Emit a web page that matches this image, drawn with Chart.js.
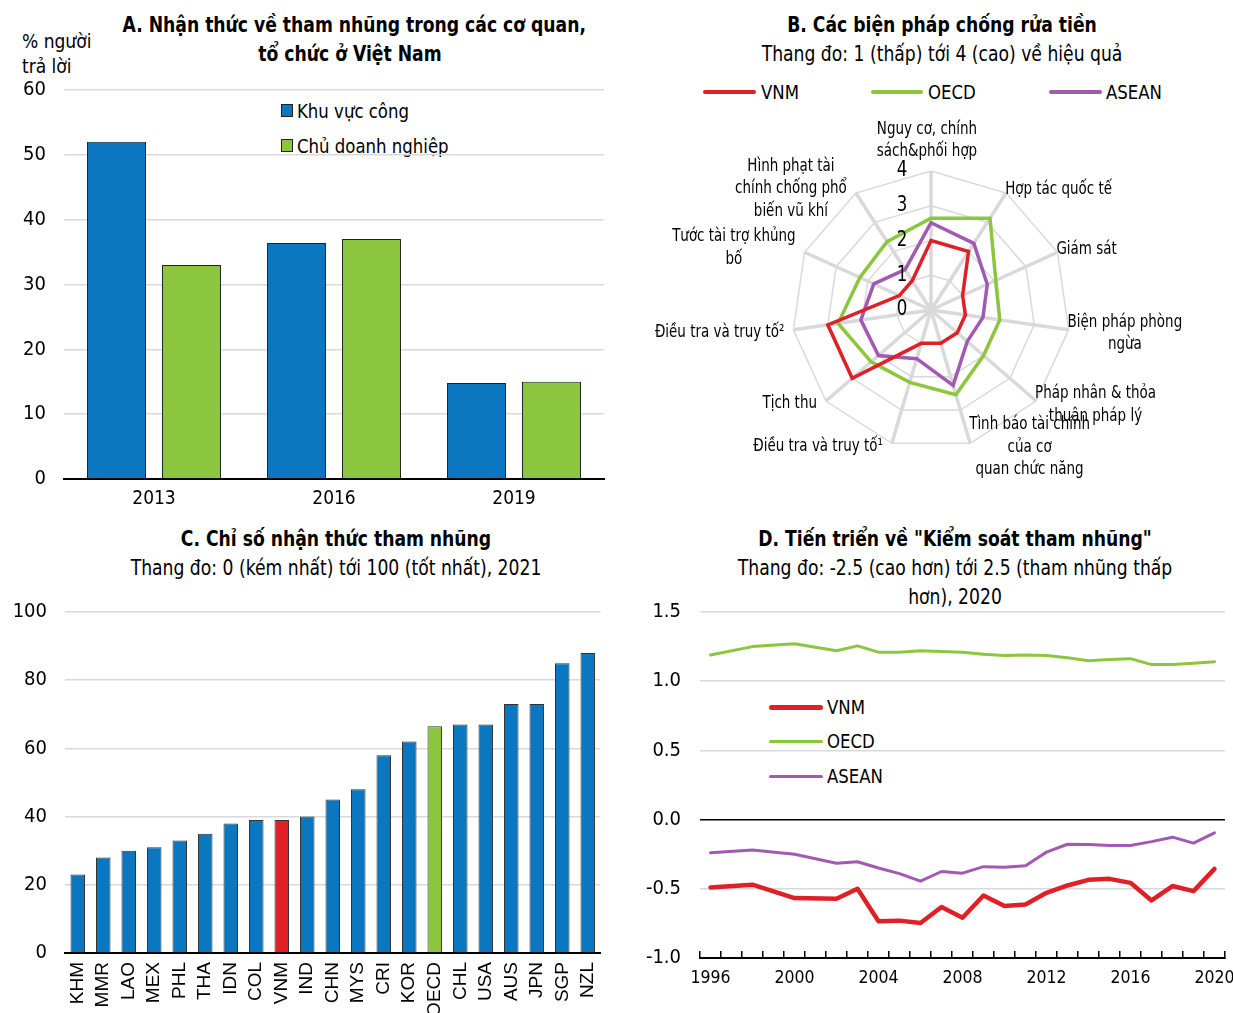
<!DOCTYPE html>
<html>
<head>
<meta charset="utf-8">
<script src="https://cdn.jsdelivr.net/npm/chart.js@4.4.1/dist/chart.umd.min.js"></script>
<style>
  body { margin: 0; width: 1233px; height: 1013px; position: relative; overflow: hidden; background: #fff;
         font-family: "Liberation Sans Narrow", "Arial Narrow", "DejaVu Sans Condensed", sans-serif; color: #000; }
  canvas { position: absolute; }
  .txt { position: absolute; white-space: nowrap; }
  .title { text-align: center; font-size: 21px; line-height: 29px; transform: scaleX(0.91); transform-origin: 50% 0; }
  .title b { font-weight: bold; }
  .leg { position: absolute; font-size: 20px; line-height: 24px; white-space: nowrap; transform: scaleX(0.92); transform-origin: 0 0; }
  .sw { position: absolute; border-radius: 3px; }
  .box { position: absolute; width: 10px; height: 11px; border: 1px solid #222; }
</style>
</head>
<body>

<!-- panel titles -->
<div class="txt title" style="left:100px; top:11px; width:500px;"><b>A. Nhận thức về tham nhũng trong các cơ quan,<br>tổ chức ở Việt Nam</b></div>
<div class="txt" style="left:22px; top:29px; font-size:19px; line-height:25px;">% người<br>trả lời</div>

<div class="txt title" style="left:692px; top:11px; width:500px;"><b>B. Các biện pháp chống rửa tiền</b><br>Thang đo: 1 (thấp) tới 4 (cao) về hiệu quả</div>

<div class="txt title" style="left:86px; top:525px; width:500px;"><b>C. Chỉ số nhận thức tham nhũng</b><br>Thang đo: 0 (kém nhất) tới 100 (tốt nhất), 2021</div>

<div class="txt title" style="left:705px; top:525px; width:500px;"><b>D. Tiến triển về "Kiểm soát tham nhũng"</b><br>Thang đo: -2.5 (cao hơn) tới 2.5 (tham nhũng thấp<br>hơn), 2020</div>

<!-- legends -->
<div class="box" style="left:281px; top:104px; background:#0A77C0;"></div>
<div class="leg" style="left:297px; top:99px;">Khu vực công</div>
<div class="box" style="left:281px; top:139px; background:#8CC63F;"></div>
<div class="leg" style="left:297px; top:134px;">Chủ doanh nghiệp</div>

<div class="sw" style="left:703px; top:90px; width:53px; height:4px; background:#DE2027;"></div>
<div class="leg" style="left:761px; top:80px;">VNM</div>
<div class="sw" style="left:871px; top:90px; width:52px; height:4px; background:#8CC63F;"></div>
<div class="leg" style="left:928px; top:80px;">OECD</div>
<div class="sw" style="left:1049px; top:90px; width:53px; height:4px; background:#A259B1;"></div>
<div class="leg" style="left:1106px; top:80px;">ASEAN</div>

<div class="sw" style="left:769px; top:705px; width:54px; height:5px; background:#DE2027;"></div>
<div class="leg" style="left:827px; top:695px;">VNM</div>
<div class="sw" style="left:769px; top:740px; width:54px; height:3px; background:#8CC63F;"></div>
<div class="leg" style="left:827px; top:729px;">OECD</div>
<div class="sw" style="left:769px; top:775px; width:54px; height:3px; background:#A259B1;"></div>
<div class="leg" style="left:827px; top:764px;">ASEAN</div>

<canvas id="chartA" width="620" height="520" style="left:0; top:0;"></canvas>
<canvas id="chartB" width="613" height="420" style="left:620px; top:100px;"></canvas>
<canvas id="chartC" width="620" height="433" style="left:0; top:580px;"></canvas>
<canvas id="chartD" width="635" height="433" style="left:620px; top:580px;"></canvas>

<script>
// ---- data ----
// A. perception of corruption
const surveyYears = ['2013', '2016', '2019'];
const publicSector = [52, 36.4, 14.8];
const businessOwners = [33, 37, 15];

// B. anti money laundering effectiveness (1-4)
const amlAxes = [
  ['Nguy cơ, chính', 'sách&phối hợp'],
  ['Hợp tác quốc tế'],
  ['Giám sát'],
  ['Biện pháp phòng', 'ngừa'],
  ['Pháp nhân & thỏa', 'thuận pháp lý'],
  ['Tình báo tài chính', 'của cơ', 'quan chức năng'],
  ['Điều tra và truy tố¹'],
  ['Tịch thu'],
  ['Điều tra và truy tố²'],
  ['Tước tài trợ khủng', 'bố'],
  ['Hình phạt tài', 'chính chống phổ', 'biến vũ khí']
];
const amlVNM = [2, 2, 1, 1, 1, 1, 1, 3, 3, 1, 1];
const amlOECD = [2.64, 3.14, 2.05, 2.0, 2.0, 2.54, 2.17, 2.28, 2.7, 2.25, 2.34];
const amlASEAN = [2.51, 2.28, 1.78, 1.51, 1.38, 2.26, 1.46, 2.0, 2.04, 1.81, 1.38];

// C. corruption perception index 2021
const countries = ['KHM', 'MMR', 'LAO', 'MEX', 'PHL', 'THA', 'IDN', 'COL', 'VNM', 'IND', 'CHN',
                   'MYS', 'CRI', 'KOR', 'OECD', 'CHL', 'USA', 'AUS', 'JPN', 'SGP', 'NZL'];
const cpiScores = [23, 28, 30, 31, 33, 35, 38, 39, 39, 40, 45, 48, 58, 62, 66.5, 67, 67, 73, 73, 85, 88];

// D. control of corruption (no survey in 1997, 1999, 2001)
const wgiYears = ['1996', '1997', '1998', '1999', '2000', '2001', '2002', '2003', '2004', '2005', '2006',
                  '2007', '2008', '2009', '2010', '2011', '2012', '2013', '2014', '2015', '2016', '2017',
                  '2018', '2019', '2020'];
const wgiVNM = [-0.49, null, -0.47, null, -0.567, null, -0.572, -0.50, -0.735, -0.73, -0.747, -0.632,
                -0.709, -0.548, -0.625, -0.613, -0.529, -0.476, -0.435, -0.428, -0.457, -0.584, -0.48,
                -0.517, -0.356];
const wgiOECD = [1.19, null, 1.25, null, 1.27, null, 1.22, 1.255, 1.21, 1.21, 1.22, 1.215, 1.21, 1.195,
                 1.185, 1.19, 1.185, 1.17, 1.147, 1.156, 1.163, 1.12, 1.12, 1.13, 1.14];
const wgiASEAN = [-0.24, null, -0.22, null, -0.25, null, -0.315, -0.305, -0.35, -0.39, -0.445, -0.375,
                  -0.387, -0.34, -0.344, -0.334, -0.235, -0.178, -0.18, -0.187, -0.187, -0.159, -0.127,
                  -0.17, -0.096];

const BLUE = '#0A77C0', GREEN = '#8CC63F', RED = '#DE2027', PURPLE = '#A259B1';
const GRID = '#d9d9d9';
const NARROW = '"Liberation Sans Narrow", "Arial Narrow", "DejaVu Sans Condensed", sans-serif';

Chart.defaults.font.family = NARROW;
Chart.defaults.color = '#000';
Chart.defaults.animation = false;
Chart.defaults.responsive = false;
Chart.defaults.devicePixelRatio = 1;
Chart.defaults.plugins.legend.display = false;
Chart.defaults.plugins.tooltip.enabled = false;

function zeroGrid(hideValue) {
  return ctx => (ctx.tick && ctx.tick.value === hideValue) ? 'rgba(0,0,0,0)' : GRID;
}

// ---- A ----
new Chart(document.getElementById('chartA'), {
  type: 'bar',
  data: {
    labels: surveyYears,
    datasets: [
      { label: 'Khu vực công', data: publicSector, backgroundColor: BLUE, borderColor: '#222', borderWidth: 1 },
      { label: 'Chủ doanh nghiệp', data: businessOwners, backgroundColor: GREEN, borderColor: '#222', borderWidth: 1 }
    ]
  },
  options: {
    layout: { padding: { top: 90, right: 16, left: 0, bottom: 0 } },
    datasets: { bar: { categoryPercentage: 0.833, barPercentage: 0.787 } },
    scales: {
      x: {
        grid: { display: false, drawTicks: false },
        border: { color: '#000', width: 2 },
        ticks: { font: { size: 19 }, padding: 9 },
        afterFit: s => { s.height = 41; }
      },
      y: {
        min: 0, max: 60,
        ticks: { stepSize: 10, font: { size: 20 }, padding: 18 },
        grid: { color: zeroGrid(0), lineWidth: 1.5, drawTicks: false },
        border: { display: false },
        afterFit: s => { s.width = 64; }
      }
    }
  }
});

// ---- B ----
const SQUEEZE = 0.88;
function squeezedText(ctx, text, x, y) {
  ctx.save();
  ctx.translate(x, y);
  ctx.scale(SQUEEZE, 1);
  ctx.fillText(text, 0, 0);
  ctx.restore();
}

const radarText = {
  id: 'radarText',
  afterDraw(chart) {
    const r = chart.scales.r;
    const ctx = chart.ctx;
    ctx.save();
    ctx.fillStyle = '#000';
    // tick values left of the vertical axis
    ctx.font = '21px ' + NARROW;
    ctx.textAlign = 'center';
    ctx.textBaseline = 'middle';
    r.ticks.forEach(t => {
      squeezedText(ctx, String(t.value), r.xCenter - 29, r.yCenter - r.getDistanceFromCenterForValue(t.value));
    });
    // axis names, each block centred line by line
    ctx.font = '17px ' + NARROW;
    const lh = 22.5;
    const n = amlAxes.length;
    amlAxes.forEach((lines, i) => {
      const p = r.getPointPosition(i, r.drawingArea);
      const ang = i * 360 / n;
      const bw = SQUEEZE * Math.max(...lines.map(l => ctx.measureText(l).width));
      const bh = lines.length * lh;
      let cx, top;
      if (i === 0) {
        cx = p.x - 4; top = p.y - 8 - bh;
      } else if (ang < 180) {
        cx = p.x - 1 + bw / 2;
        top = p.y + (ang > 90 ? 4 : -3) - bh / 2;
      } else {
        cx = p.x - 9 - bw / 2;
        top = p.y + (ang < 270 ? 3 : -4) - bh / 2;
      }
      lines.forEach((l, k) => squeezedText(ctx, l, cx, top + lh * (k + 0.5)));
    });
    ctx.restore();
  }
};

new Chart(document.getElementById('chartB'), {
  type: 'radar',
  data: {
    labels: amlAxes,
    datasets: [
      { label: 'VNM', data: amlVNM, borderColor: RED, borderWidth: 3.5 },
      { label: 'OECD', data: amlOECD, borderColor: GREEN, borderWidth: 3.5 },
      { label: 'ASEAN', data: amlASEAN, borderColor: PURPLE, borderWidth: 3.5 }
    ]
  },
  options: {
    layout: { padding: { left: 172.5, top: 71, right: 162.5, bottom: 71 } },
    elements: { point: { radius: 0 }, line: { fill: false, tension: 0 } },
    scales: {
      r: {
        min: 0, max: 4,
        ticks: { stepSize: 1, display: false },
        grid: { color: GRID, lineWidth: 1.5 },
        angleLines: { color: GRID, lineWidth: 3.5 },
        pointLabels: { display: false }
      }
    }
  },
  plugins: [radarText]
});

// ---- C ----
new Chart(document.getElementById('chartC'), {
  type: 'bar',
  data: {
    labels: countries,
    datasets: [{
      data: cpiScores,
      backgroundColor: countries.map(c => c === 'VNM' ? RED : (c === 'OECD' ? GREEN : BLUE)),
      borderColor: '#333',
      borderWidth: 1
    }]
  },
  options: {
    layout: { padding: { top: 32, right: 18, left: 0, bottom: 0 } },
    datasets: { bar: { categoryPercentage: 1, barPercentage: 0.57 } },
    scales: {
      x: {
        grid: { display: false, drawTicks: false },
        border: { color: '#000', width: 2 },
        ticks: { font: { size: 19, family: '"Liberation Sans", Arial, sans-serif' }, maxRotation: 90, minRotation: 90, padding: 9, autoSkip: false },
        afterFit: s => { s.height = 60; }
      },
      y: {
        min: 0, max: 100,
        ticks: { stepSize: 20, font: { size: 20 }, padding: 18 },
        grid: { color: zeroGrid(0), lineWidth: 1.5, drawTicks: false },
        border: { display: false },
        afterFit: s => { s.width = 65; }
      }
    }
  }
});

// ---- D ----
new Chart(document.getElementById('chartD'), {
  type: 'line',
  data: {
    labels: wgiYears,
    datasets: [
      { label: 'VNM', data: wgiVNM, borderColor: RED, borderWidth: 4.5 },
      { label: 'OECD', data: wgiOECD, borderColor: GREEN, borderWidth: 3 },
      { label: 'ASEAN', data: wgiASEAN, borderColor: PURPLE, borderWidth: 3 }
    ]
  },
  options: {
    layout: { padding: { top: 32, right: 30, left: 0, bottom: 0 } },
    spanGaps: true,
    elements: { point: { radius: 0 }, line: { tension: 0, borderCapStyle: 'round', borderJoinStyle: 'round' } },
    scales: {
      x: {
        offset: true,
        grid: { offset: true, drawOnChartArea: false, drawTicks: true, tickLength: -7, color: '#000', lineWidth: 1.5 },
        border: { color: '#000', width: 2 },
        ticks: {
          font: { size: 17.5 }, padding: 17, autoSkip: false, maxRotation: 0,
          callback: (v, i) => (i % 4 === 0 ? wgiYears[i] : '')
        },
        afterFit: s => { s.height = 55; }
      },
      y: {
        min: -1, max: 1.5,
        ticks: { stepSize: 0.5, font: { size: 20 }, padding: 19, callback: v => v.toFixed(1) },
        grid: {
          lineWidth: 1.5, drawTicks: false,
          color: ctx => ctx.tick.value === 0 ? '#000' : (ctx.tick.value === -1 ? 'rgba(0,0,0,0)' : GRID)
        },
        border: { display: false },
        afterFit: s => { s.width = 80; }
      }
    }
  }
});
</script>
</body>
</html>
